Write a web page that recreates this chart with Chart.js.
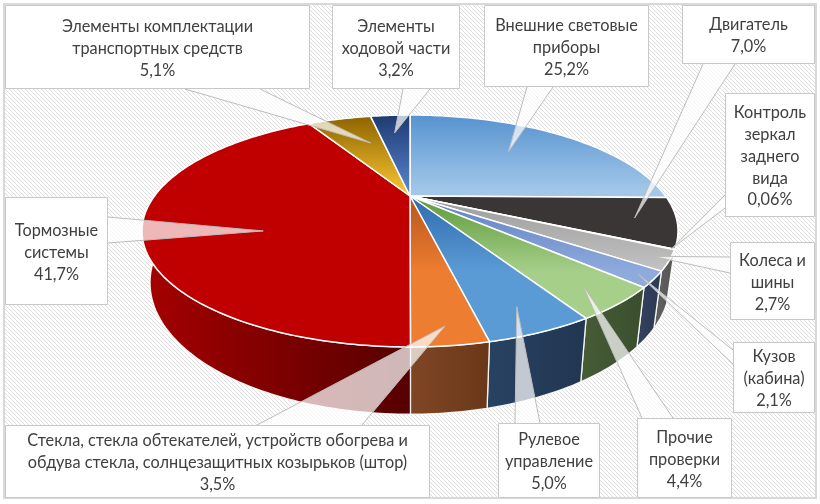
<!DOCTYPE html>
<html><head><meta charset="utf-8">
<script src="https://cdn.jsdelivr.net/npm/chart.js@4.4.1/dist/chart.umd.min.js"></script>
<style>html,body{margin:0;padding:0;background:#fff}canvas{display:block}</style>
</head><body>
<canvas id="c" width="820" height="504"></canvas>
<script>
// ---- data ----
const categories = ['Внешние световые приборы','Двигатель','Контроль зеркал заднего вида','Колеса и шины','Кузов (кабина)','Прочие проверки','Рулевое управление','Стекла, стекла обтекателей, устройств обогрева и обдува стекла, солнцезащитных козырьков (штор)','Тормозные системы','Элементы комплектации транспортных средств','Элементы ходовой части'];
const shares = [25.2, 7.0, 0.06, 2.7, 2.1, 4.4, 5.0, 3.5, 41.7, 5.1, 3.2];
const labelLines = [
  ['Внешние световые','приборы'],
  ['Двигатель'],
  ['Контроль','зеркал','заднего','вида'],
  ['Колеса и','шины'],
  ['Кузов','(кабина)'],
  ['Прочие','проверки'],
  ['Рулевое','управление'],
  ['Стекла, стекла обтекателей, устройств обогрева и','обдува стекла, солнцезащитных козырьков (штор)'],
  ['Тормозные','системы'],
  ['Элементы комплектации','транспортных средств'],
  ['Элементы','ходовой части']
];
// ---- style ----
const topColors = [
  ['#5793D0','#A3C7E8'],['#3A3636','#3A3636'],['#A5A5A5','#A5A5A5'],['#9C9C9C','#C2C2C2'],
  ['#5F80C4','#8FAADC'],['#5E9A3A','#A6CF8A'],['#2E6CAD','#5B9BD5'],['#B8561B','#ED7D31'],
  ['#C00000','#C00000'],['#8E6400','#F7C430'],['#1F3A70','#5783CE']
];
const wallColors = [
  ['#2A4A6A','#2A4A6A'],['#262424','#1E1C1C'],['#444','#444'],['#626262','#555'],
  ['#34425F','#2C3952'],['#465D37','#3A4E2D'],['#284262','#213651'],['#804624','#693819'],
  ['#A60000','#560000'],['#7A5500','#6A4A00'],['#1A2F5A','#1A2F5A']
];
// callout boxes [x0,y0,x1,y1], wedge base [x,y,x,y], apex position in slice [angleFrac, radiusFrac]
const boxes = [
  [484,5,649,87],[682,5,815,64],[725,93,815,217],[730,242,815,320],[733,342,815,413],
  [637,418,732,498],[498,423,600,498],[5,425,430,498],[5,197,108,305],[5,5,310,89],[332,5,460,89]
];
const wedgeBase = [
  [527,87,553,87],[703,64,735,64],[725,195,725,208],[730,257,730,273],[733,350,733,364],
  [642,418,673,418],[515,423,540,423],[257,425,362,425],[108,217,108,243],[185,89,260,89],[403,89,430,89]
];
const apexAt = [[0.47,0.65],[0.5,0.85],[0.5,0.99],[0.5,0.947],[0.5,0.948],[0.5,0.863],[0.5,0.859],[0.5,0.904],[0.4,0.603],[0.70,0.62],[0.5,0.733]];

const K = 0.3017;      // perspective strength
const BR = 0.4125;     // vertical squash
const TH = 0.184;      // thickness / radius
const SB = 0.97;       // bottom rim shrink

function fmt(v){ return (v < 0.1 ? v.toFixed(2) : v.toFixed(1)).replace('.', ',') + '%'; }

function proj(cx, cy, R, theta, r, bottom){
  const u = r*Math.sin(theta), v = -r*Math.cos(theta);
  const w = 1 - K*v;
  let x = cx + R*u/w, y = cy + R*BR*v/w;
  if (bottom){ x = cx + (x-cx)*SB; y += R*TH/w; }
  return [x,y];
}

const pie3d = {
  id:'pie3d',
  beforeDraw(chart){
    const ctx = chart.ctx;
    ctx.save();
    ctx.fillStyle = '#fff'; ctx.fillRect(0,0,820,504);
    ctx.beginPath(); ctx.rect(4,4,812,494); ctx.clip();
    ctx.strokeStyle = '#DEDEDE'; ctx.lineWidth = 1;
    ctx.beginPath();
    for (let c = -504; c < 820; c += 4){ ctx.moveTo(c,0); ctx.lineTo(c+504,504); }
    ctx.stroke();
    ctx.restore();
    ctx.save();
    ctx.strokeStyle = '#D9D9D9'; ctx.lineWidth = 2;
    ctx.strokeRect(4,4,812,494);
    ctx.restore();
  },
  beforeDatasetsDraw(chart){
    const ctx = chart.ctx;
    const meta = chart.getDatasetMeta(0);
    const arcs = meta.data;
    const el0 = arcs[0];
    const cx = el0.x, cy = el0.y, R = el0.outerRadius;
    const segs = arcs.map(a => [a.startAngle + Math.PI/2, a.endAngle + Math.PI/2]);
    // walls
    segs.forEach((s,i) => {
      const a = Math.max(s[0], Math.PI/2), b = Math.min(s[1], 3*Math.PI/2);
      if (b <= a) return;
      const steps = Math.max(2, Math.ceil((b-a)/(2*Math.PI)*360));
      const top = [], bot = [];
      for (let k=0;k<=steps;k++){ const t=a+(b-a)*k/steps; top.push(proj(cx,cy,R,t,1,false)); bot.push(proj(cx,cy,R,t,1,true)); }
      let minx=1e9,maxx=-1e9; top.concat(bot).forEach(p=>{minx=Math.min(minx,p[0]);maxx=Math.max(maxx,p[0]);});
      const g = ctx.createLinearGradient(minx,0,Math.max(maxx,minx+1),0);
      g.addColorStop(0, wallColors[i][0]); g.addColorStop(1, wallColors[i][1]);
      ctx.beginPath();
      top.forEach((p,k)=> k?ctx.lineTo(p[0],p[1]):ctx.moveTo(p[0],p[1]));
      for (let k=bot.length-1;k>=0;k--) ctx.lineTo(bot[k][0],bot[k][1]);
      ctx.closePath();
      ctx.fillStyle = g; ctx.fill();
      ctx.strokeStyle = 'rgba(255,255,255,0.9)'; ctx.lineWidth = 1.3; ctx.lineJoin='round'; ctx.stroke();
    });
    // tops
    segs.forEach((s,i) => {
      const steps = Math.max(2, Math.ceil((s[1]-s[0])/(2*Math.PI)*360));
      const pts = [[cx,cy]];
      for (let k=0;k<=steps;k++){ pts.push(proj(cx,cy,R,s[0]+(s[1]-s[0])*k/steps,1,false)); }
      let miny=1e9,maxy=-1e9; pts.forEach(p=>{miny=Math.min(miny,p[1]);maxy=Math.max(maxy,p[1]);});
      const g = ctx.createLinearGradient(0,miny,0,Math.min(maxy,miny+75)+1);
      g.addColorStop(0, topColors[i][0]); g.addColorStop(1, topColors[i][1]);
      ctx.beginPath();
      pts.forEach((p,k)=> k?ctx.lineTo(p[0],p[1]):ctx.moveTo(p[0],p[1]));
      ctx.closePath();
      ctx.fillStyle = g; ctx.fill();
      ctx.strokeStyle = '#fff'; ctx.lineWidth = 1.5; ctx.lineJoin='round'; ctx.stroke();
    });
    // callouts
    segs.forEach((s,i) => {
      const ap = proj(cx,cy,R,s[0]+(s[1]-s[0])*apexAt[i][0],apexAt[i][1],false);
      const wb = wedgeBase[i];
      ctx.beginPath();
      ctx.moveTo(wb[0],wb[1]); ctx.lineTo(ap[0],ap[1]); ctx.lineTo(wb[2],wb[3]); ctx.closePath();
      ctx.fillStyle = 'rgba(255,255,255,0.72)'; ctx.fill();
      ctx.beginPath();
      ctx.moveTo(wb[0],wb[1]); ctx.lineTo(ap[0],ap[1]); ctx.lineTo(wb[2],wb[3]);
      ctx.strokeStyle = '#BDBDBD'; ctx.lineWidth = 1; ctx.stroke();
    });
    segs.forEach((s,i) => {
      const b = boxes[i];
      ctx.fillStyle = '#fff';
      ctx.fillRect(b[0],b[1],b[2]-b[0],b[3]-b[1]);
      ctx.strokeStyle = '#C8C8C8'; ctx.lineWidth = 1;
      ctx.strokeRect(b[0]+0.5,b[1]+0.5,b[2]-b[0]-1,b[3]-b[1]-1);
      const lines = labelLines[i].concat([fmt(chart.data.datasets[0].data[i])]);
      ctx.fillStyle = '#404040';
      ctx.font = '16.3px Lato';
      ctx.textAlign = 'center'; ctx.textBaseline = 'middle';
      const lh = 21.8;
      const mx = (b[0]+b[2])/2, my = (b[1]+b[3])/2 + 1.5;
      const y0 = my - lh*(lines.length-1)/2;
      lines.forEach((t,k)=> ctx.fillText(t, mx, y0 + k*lh));
    });
    return false;
  }
};

new Chart(document.getElementById('c'), {
  type: 'pie',
  data: { labels: categories, datasets: [{ data: shares, backgroundColor: topColors.map(c=>c[1]), borderColor:'#fff', borderWidth:1.5 }] },
  options: {
    responsive:false, animation:false, events:[],
    radius: 255.5,
    layout:{ padding:{ top:0, left:0, right:0, bottom:112 } },
    plugins:{ legend:{display:false}, tooltip:{enabled:false} }
  },
  plugins:[pie3d]
});
</script>
</body></html>
